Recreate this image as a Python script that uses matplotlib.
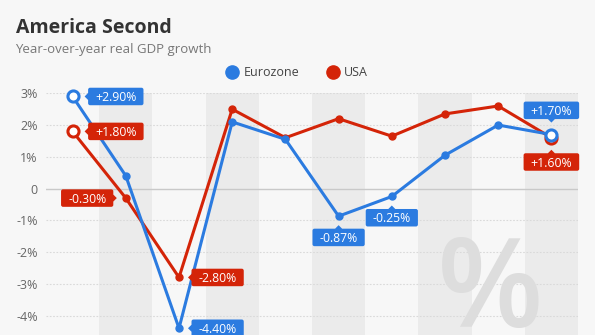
import matplotlib.pyplot as plt
from matplotlib.lines import Line2D
from matplotlib.path import Path

plt.rcParams['font.family'] = ['Open Sans', 'DejaVu Sans']

years = list(range(2008, 2018))
eurozone = [2.9, 0.4, -4.4, 2.1, 1.55, -0.87, -0.25, 1.05, 2.0, 1.7]
usa = [1.8, -0.3, -2.8, 2.5, 1.6, 2.2, 1.65, 2.35, 2.6, 1.6]
yticks = [3, 2, 1, 0, -1, -2, -3, -4]
ytick_labels = ['3%', '2%', '1%', '0', '-1%', '-2%', '-3%', '-4%']

# (series, index, text, side of the point where the box sits)
callouts = [
    ('eu', 0, '+2.90%', 'right'),
    ('us', 0, '+1.80%', 'right'),
    ('us', 1, '-0.30%', 'left'),
    ('us', 2, '-2.80%', 'right'),
    ('eu', 2, '-4.40%', 'right'),
    ('eu', 5, '-0.87%', 'below'),
    ('eu', 6, '-0.25%', 'below'),
    ('eu', 9, '+1.70%', 'above'),
    ('us', 9, '+1.60%', 'below'),
]

BLUE = '#2b7be0'
RED = '#d42408'
BG = '#f7f7f7'

PADX, PAD_TOP, PAD_BOT, TIP = 7, 3.4, 1.1, 3.5


class CalloutBox:
    ''' rounded box with a small pointer on the side facing the point '''

    def __init__(self, side, r=2.0):
        self.side = side
        self.r = r

    def __call__(self, x0, y0, w, h, mutation_size):
        l, rt = x0 - PADX, x0 + w + PADX
        b, t = y0 - PAD_BOT, y0 + h + PAD_TOP
        xm, ym = (l + rt) / 2, (b + t) / 2
        k = TIP
        pts = [((xm, b), False)]
        if self.side == 'above':
            pts = [((xm - k, b), False), ((xm, b - k), False), ((xm + k, b), False)]
        pts.append(((rt, b), True))
        if self.side == 'left':
            pts += [((rt, ym - k), False), ((rt + k, ym), False), ((rt, ym + k), False)]
        pts.append(((rt, t), True))
        if self.side == 'below':
            pts += [((xm + k, t), False), ((xm, t + k), False), ((xm - k, t), False)]
        pts.append(((l, t), True))
        if self.side == 'right':
            pts += [((l, ym + k), False), ((l - k, ym), False), ((l, ym - k), False)]
        pts.append(((l, b), True))

        verts, codes = [pts[0][0]], [Path.MOVETO]
        n = len(pts)
        for j in range(1, n + 1):
            (px, py), rounded = pts[j % n]
            if not rounded:
                verts.append((px, py))
                codes.append(Path.LINETO)
                continue
            (ax_, ay_), _ = pts[j - 1]
            (bx_, by_), _ = pts[(j + 1) % n]

            def toward(qx, qy):
                dx, dy = qx - px, qy - py
                d = max((dx * dx + dy * dy) ** 0.5, 1e-9)
                return px + dx / d * self.r, py + dy / d * self.r

            verts += [toward(ax_, ay_), (px, py), toward(bx_, by_)]
            codes += [Path.LINETO, Path.CURVE3, Path.CURVE3]
        verts.append(pts[0][0])
        codes.append(Path.CLOSEPOLY)
        return Path(verts, codes)


fig = plt.figure(figsize=(5.95, 3.35), dpi=100, facecolor=BG)
ax = fig.add_axes([46 / 595, 0, 532 / 595, (335 - 93.3) / 335])
ax.set_facecolor(BG)

x = list(range(len(years)))
ax.set_xlim(-0.5, len(years) - 0.5)
ax.set_ylim(3 - (335 - 93.3) / 31.75, 3)

# alternating column bands
for i in x:
    if i % 2 == 1:
        ax.axvspan(i - 0.5, i + 0.5, color='#ebebeb', zorder=0, lw=0)

for t in yticks:
    if t == 0:
        ax.axhline(0, color='#c9c9c9', lw=1, zorder=1)
    else:
        ax.axhline(t, color='#d9d9d9', lw=0.8, ls=(0, (1.5, 1.5)), zorder=1)

ax.set_yticks(yticks)
ax.set_yticklabels(ytick_labels)
ax.set_xticks([])
ax.tick_params(axis='y', length=0, pad=6, labelsize=9, labelcolor='#666666')
for s in ax.spines.values():
    s.set_visible(False)

# watermark
fig.text(490 / 595, 8 / 335, '%', fontsize=89, fontweight='semibold',
         color='#dddddd', ha='center', va='baseline', zorder=0.5)

series = {'eu': (eurozone, BLUE), 'us': (usa, RED)}
for key in ['us', 'eu']:
    vals, c = series[key]
    ax.plot(x, vals, color=c, lw=2.2, zorder=3, clip_on=False)
    ax.plot(x[1:-1], vals[1:-1], 'o', color=c, ms=5, zorder=3, clip_on=False)
    ax.plot([x[0], x[-1]], [vals[0], vals[-1]], 'o', ms=8, mfc='white',
            mec=c, mew=2.2, zorder=4, clip_on=False)

for key, i, text, side in callouts:
    vals, c = series[key]
    gap = 12 if i in (0, len(years) - 1) else 9
    if side == 'right':
        off, ha, va = (gap + TIP + PADX, -1.15), 'left', 'center'
    elif side == 'left':
        off, ha, va = (-(gap + TIP + PADX), -1.15), 'right', 'center'
    elif side == 'below':
        off, ha, va = (0, -(gap + TIP + PAD_TOP)), 'center', 'top'
    else:
        off, ha, va = (0, gap + TIP + PAD_BOT), 'center', 'bottom'
    ax.annotate(text, (i, vals[i]), xytext=off, textcoords='offset pixels',
                ha=ha, va=va, fontsize=8.8, color='white', zorder=6,
                annotation_clip=False,
                bbox=dict(boxstyle=CalloutBox(side), fc=c, ec='none'))

fig.text(16 / 595, 1 - 33 / 335, 'America Second', fontsize=14,
         fontweight='bold', color='#333333', ha='left', va='baseline')
fig.text(15 / 595, 1 - 52.5 / 335, 'Year-over-year real GDP growth',
         fontsize=9.5, color='#777777', ha='left', va='baseline')

handles = [Line2D([], [], marker='o', ls='', ms=9.5, color=BLUE),
           Line2D([], [], marker='o', ls='', ms=9.5, color=RED)]
fig.legend(handles, ['Eurozone', 'USA'], loc='center',
           bbox_to_anchor=(297 / 595, 1 - 73 / 335), ncol=2, frameon=False,
           fontsize=9, handletextpad=0.4, columnspacing=2.2,
           handlelength=1.0, labelcolor='#444444')

fig.savefig('out.png', dpi=100, facecolor=BG)
